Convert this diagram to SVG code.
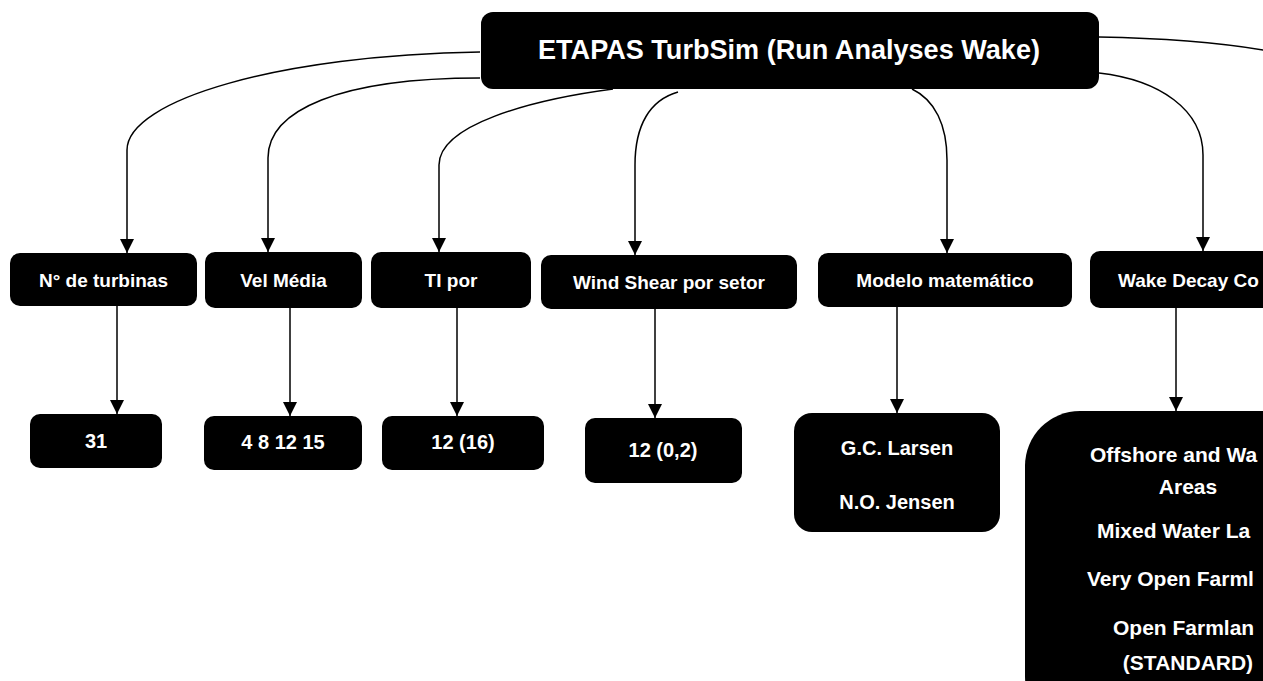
<svg xmlns="http://www.w3.org/2000/svg" width="1263" height="681" viewBox="0 0 1263 681">
  <style>
    .box { fill: #000; }
    .t { fill: #fff; font-family: "Liberation Sans", Arial, sans-serif; font-weight: bold; }
    .l2 { font-size: 19px; text-anchor: middle; }
    .l3 { font-size: 20px; text-anchor: middle; }
    .ls { font-size: 21px; text-anchor: start; }
    .lc { font-size: 21px; text-anchor: middle; }
    .edge { fill: none; stroke: #000; stroke-width: 1.5; marker-end: url(#arr); }
  </style>
  <defs>
    <marker id="arr" markerUnits="userSpaceOnUse" markerWidth="14" markerHeight="14" refX="14" refY="7" orient="auto">
      <path d="M0,0 L14,7 L0,14 Z" fill="#000"/>
    </marker>
  </defs>
  <rect width="1263" height="681" fill="#fff"/>

  <g id="connectors">
    <path class="edge" d="M480,52 C280,55 127,100 127,150 V253"/>
    <path class="edge" d="M480,78 C340,78 268,110 268,158 V252"/>
    <path class="edge" d="M613,89 C530,100 439,125 439,165 V252"/>
    <path class="edge" d="M678,92 C650,100 635,125 635,165 V255"/>
    <path class="edge" d="M912,89 C935,100 947,125 947,160 V253"/>
    <path class="edge" d="M1099,73 C1160,80 1203,110 1203,155 V251"/>
    <path fill="none" stroke="#000" stroke-width="1.5" d="M1099,37 C1160,38 1220,42 1275,52"/>
    <path class="edge" d="M117,306 V414"/>
    <path class="edge" d="M290,308 V416"/>
    <path class="edge" d="M457,308 V416"/>
    <path class="edge" d="M655,309 V418"/>
    <path class="edge" d="M897,307 V413"/>
    <path class="edge" d="M1176,308 V411"/>
  </g>

  <g id="root">
    <rect class="box" x="481" y="12" width="618" height="77" rx="12"/>
    <text class="t" x="789" y="59" font-size="28" text-anchor="middle" textLength="502" lengthAdjust="spacingAndGlyphs">ETAPAS TurbSim (Run Analyses Wake)</text>
  </g>

  <g id="n-turbinas">
    <rect class="box" x="10" y="253" width="187" height="53" rx="10"/>
    <text class="t l2" x="103.5" y="287">N° de turbinas</text>
  </g>
  <g id="vel-media">
    <rect class="box" x="205" y="252" width="157" height="56" rx="10"/>
    <text class="t l2" x="283.5" y="287">Vel Média</text>
  </g>
  <g id="ti-por">
    <rect class="box" x="371" y="252" width="160" height="56" rx="10"/>
    <text class="t l2" x="451" y="287">TI por</text>
  </g>
  <g id="wind-shear">
    <rect class="box" x="541" y="255" width="256" height="54" rx="10"/>
    <text class="t l2" x="669" y="289">Wind Shear por setor</text>
  </g>
  <g id="modelo">
    <rect class="box" x="818" y="253" width="254" height="54" rx="10"/>
    <text class="t l2" x="945" y="287">Modelo matemático</text>
  </g>
  <g id="wake-decay">
    <rect class="box" x="1090" y="251" width="200" height="57" rx="10"/>
    <text class="t l2" x="1118" y="287" style="text-anchor:start">Wake Decay Co</text>
  </g>

  <g id="v31">
    <rect class="box" x="30" y="414" width="132" height="54" rx="10"/>
    <text class="t l3" x="96" y="448">31</text>
  </g>
  <g id="vel-vals">
    <rect class="box" x="204" y="416" width="158" height="54" rx="10"/>
    <text class="t l3" x="283" y="449">4 8 12 15</text>
  </g>
  <g id="ti-vals">
    <rect class="box" x="382" y="416" width="162" height="54" rx="10"/>
    <text class="t l3" x="463" y="449">12 (16)</text>
  </g>
  <g id="shear-vals">
    <rect class="box" x="585" y="418" width="157" height="65" rx="10"/>
    <text class="t l3" x="663" y="457">12 (0,2)</text>
  </g>
  <g id="modelos">
    <rect class="box" x="794" y="413" width="206" height="119" rx="18"/>
    <text class="t l3" x="897" y="455">G.C. Larsen</text>
    <text class="t l3" x="897" y="509">N.O. Jensen</text>
  </g>
  <g id="wake-vals">
    <rect class="box" x="1025" y="411" width="330" height="320" rx="55"/>
    <text class="t ls" x="1090" y="462">Offshore and Wa</text>
    <text class="t lc" x="1188" y="494">Areas</text>
    <text class="t ls" x="1097" y="538">Mixed Water La</text>
    <text class="t ls" x="1087" y="586">Very Open Farml</text>
    <text class="t ls" x="1113" y="635">Open Farmlan</text>
    <text class="t lc" x="1188" y="670">(STANDARD)</text>
  </g>
</svg>
